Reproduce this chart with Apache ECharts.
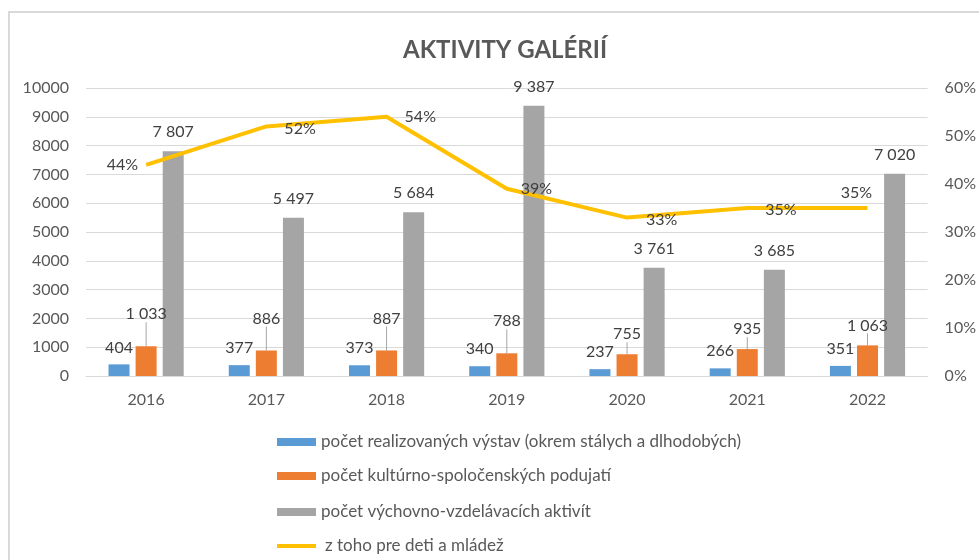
<!DOCTYPE html>
<html>
<head>
<meta charset="utf-8">
<script src="https://cdn.jsdelivr.net/npm/echarts@6/dist/echarts.min.js"></script>
<style>html,body{margin:0;padding:0;background:#fff;}#c{width:979px;height:560px;}</style>
</head>
<body>
<div id="c"></div>
<script>
const years = ['2016','2017','2018','2019','2020','2021','2022'];
const vystavy = [404, 377, 373, 340, 237, 266, 351];
const podujatia = [1033, 886, 887, 788, 755, 935, 1063];
const aktivity = [7807, 5497, 5684, 9387, 3761, 3685, 7020];
const detiPct = [44, 52, 54, 39, 33, 35, 35];
const leftTicks = [0, 1000, 2000, 3000, 4000, 5000, 6000, 7000, 8000, 9000, 10000];
const rightTicks = [0, 10, 20, 30, 40, 50, 60];

const names = [
  'počet realizovaných výstav (okrem stálych a dlhodobých)',
  'počet kultúrno-spoločenských podujatí',
  'počet výchovno-vzdelávacích aktivít',
  'z toho pre deti a mládež'
];

// label styling (not data)
const orangeLead = [true, true, true, true, false, false, false];
const lineLabelCfg = [
  {position: 'left', distance: 8},
  {position: 'right', distance: 18, offset: [0, 2]},
  {position: 'right', distance: 18},
  {position: 'right', distance: 14},
  {position: 'right', distance: 19, offset: [0, 2]},
  {position: 'right', distance: 18, offset: [0, 2]},
  {position: 'top', distance: 7, offset: [-11, 0]}
];
const legendTops = [428, 462, 498, 532];

const FONT = 'Lato';
const fmt = v => String(v).replace(/\B(?=(\d{3})+(?!\d))/g, ' ');
const chart = echarts.init(document.getElementById('c'));
const labelBase = {show: true, position: 'top', color: '#404040', fontFamily: FONT, fontSize: 16,
  formatter: p => fmt(p.value)};

const legends = names.map((n, i) => ({
  orient: 'vertical', left: 272, top: legendTops[i] - 1,
  itemWidth: 39, itemHeight: i === 3 ? 4 : 8,
  textStyle: {fontFamily: FONT, fontSize: 17, color: '#595959', lineHeight: 20, padding: i === 3 ? [0, 0, 0, 4] : 0},
  data: [{name: n, icon: 'rect'}]
}));

chart.setOption({
  animation: false,
  graphic: [{type: 'rect', shape: {x: 9, y: 12, width: 1000, height: 600},
    style: {fill: 'none', stroke: '#d9d9d9', lineWidth: 2}, silent: true, z: -10}],
  title: {text: 'AKTIVITY GALÉRIÍ', left: 398, top: 33,
    textStyle: {fontFamily: FONT, fontWeight: 'bold', fontSize: 24, color: '#595959'}},
  legend: legends,
  grid: {left: 86, right: 51, top: 88, bottom: 184},
  xAxis: {
    type: 'category', data: years,
    axisLine: {lineStyle: {color: '#d9d9d9', width: 1}},
    axisTick: {show: false},
    axisLabel: {color: '#595959', fontFamily: FONT, fontSize: 16, margin: 16}
  },
  yAxis: [
    {type: 'value', min: leftTicks[0], max: leftTicks[leftTicks.length - 1], interval: 1000,
      axisLine: {show: false}, axisTick: {show: false},
      splitLine: {lineStyle: {color: '#d9d9d9'}},
      axisLabel: {color: '#595959', fontFamily: FONT, fontSize: 16, margin: 17, formatter: v => String(v)}},
    {type: 'value', min: rightTicks[0], max: rightTicks[rightTicks.length - 1], interval: 10,
      axisLine: {show: false}, axisTick: {show: false}, splitLine: {show: false},
      axisLabel: {color: '#595959', fontFamily: FONT, fontSize: 16, margin: 17, formatter: '{value}%'}}
  ],
  series: [
    {name: names[0], type: 'bar', data: vystavy, barWidth: 21, barGap: '29%',
      itemStyle: {color: '#5B9BD5'}, label: Object.assign({}, labelBase, {distance: 9})},
    {name: names[1], type: 'bar', data: podujatia, barWidth: 21, barGap: '29%',
      itemStyle: {color: '#ED7D31'}, label: Object.assign({}, labelBase, {distance: 12}),
      labelLayout: p => orangeLead[p.dataIndex] ? {dy: -12} : {},
      labelLine: {show: true, lineStyle: {color: '#a6a6a6', width: 1}}},
    {name: names[2], type: 'bar', data: aktivity, barWidth: 21, barGap: '29%',
      itemStyle: {color: '#A5A5A5'}, label: Object.assign({}, labelBase, {distance: 11})},
    {name: names[3], type: 'line', yAxisIndex: 1, symbol: 'circle', symbolSize: 0, showSymbol: true,
      data: detiPct.map((v, i) => ({value: v, label: lineLabelCfg[i]})),
      lineStyle: {color: '#FFC000', width: 4}, itemStyle: {color: '#FFC000'},
      label: {show: true, color: '#404040', fontFamily: FONT, fontSize: 16, formatter: '{c}%'},
      z: 5}
  ]
});
</script>
</body>
</html>
